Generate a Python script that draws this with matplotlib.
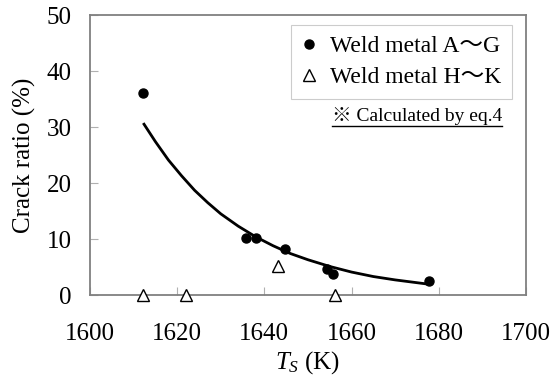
import matplotlib
matplotlib.use("Agg")
import matplotlib.pyplot as plt
from matplotlib.lines import Line2D

# Data
ag_x = [1612.2, 1635.8, 1638.1, 1644.7, 1654.4, 1655.8, 1677.8]
ag_y = [36.1, 10.2, 10.2, 8.2, 4.6, 3.7, 2.5]
hk_x = [1612.2, 1622.0, 1643.2, 1656.2]
hk_y = [0.0, 0.0, 5.2, 0.0]
curve_x = [1612.4, 1615, 1618, 1621, 1624, 1627, 1630, 1634, 1638, 1642,
           1646, 1650, 1655, 1660, 1665, 1670, 1677]
curve_y = [30.5, 27.4, 24.1, 21.3, 18.7, 16.5, 14.5, 12.3, 10.4, 8.8,
           7.4, 6.3, 5.1, 4.1, 3.3, 2.7, 2.0]
x_ticks = [1600, 1620, 1640, 1660, 1680, 1700]
y_ticks = [0, 10, 20, 30, 40, 50]

plt.rcParams['font.family'] = ['Liberation Serif', 'Noto Sans CJK JP', 'DejaVu Serif']
plt.rcParams['mathtext.fontset'] = 'custom'
plt.rcParams['mathtext.it'] = 'Liberation Serif:italic'
plt.rcParams['mathtext.rm'] = 'Liberation Serif'

fig = plt.figure(figsize=(5.53, 3.82), dpi=100)
ax = fig.add_axes([0.1627, 0.2277, 0.951 - 0.1627, 0.9607 - 0.2277])

ax.plot(curve_x, curve_y, color='black', lw=2.0, zorder=2)
ax.plot(ag_x, ag_y, 'o', color='black', markersize=6.5, zorder=3,
        label='Weld metal A～G')
ax.plot(hk_x, hk_y, '^', markerfacecolor='white', markeredgecolor='black',
        markeredgewidth=1.0, markersize=9, zorder=4, clip_on=False,
        label='Weld metal H～K')

ax.set_xlim(1600, 1700)
ax.set_ylim(0, 50)
ax.set_xticks(x_ticks)
ax.set_yticks(y_ticks)
ax.tick_params(axis='both', direction='in', length=6, width=0.8,
               color='#b0b0b0', labelsize=18)
ax.tick_params(axis='x', pad=20)
ax.tick_params(axis='y', pad=13)
for s in ax.spines.values():
    s.set_color('#808080')
    s.set_linewidth(1.3)

ax.set_xlabel('$T_S$ (K)', fontsize=18, labelpad=3)
ax.set_ylabel('Crack ratio (%)', fontsize=18, labelpad=8)

leg = ax.legend(loc='upper right', bbox_to_anchor=(0.968, 0.964),
                borderaxespad=0, fontsize=17, frameon=True, fancybox=False,
                handlelength=0.6, handletextpad=0.6, borderpad=0.45,
                labelspacing=0.4, markerscale=1.0)
leg.get_frame().set_edgecolor('#c0c0c0')
leg.get_frame().set_linewidth(0.8)

t = ax.text(0.946, 0.64, '※ Calculated by eq.4', transform=ax.transAxes,
            ha='right', va='center', fontsize=14,
            family=['Liberation Serif', 'Noto Sans CJK JP'])
fig.canvas.draw()
bb = t.get_window_extent()
fig.add_artist(Line2D([bb.x0, bb.x1], [bb.y0 - 1, bb.y0 - 1],
                      transform=None, color='black', lw=1.0))

fig.savefig('out.png', dpi=100)
